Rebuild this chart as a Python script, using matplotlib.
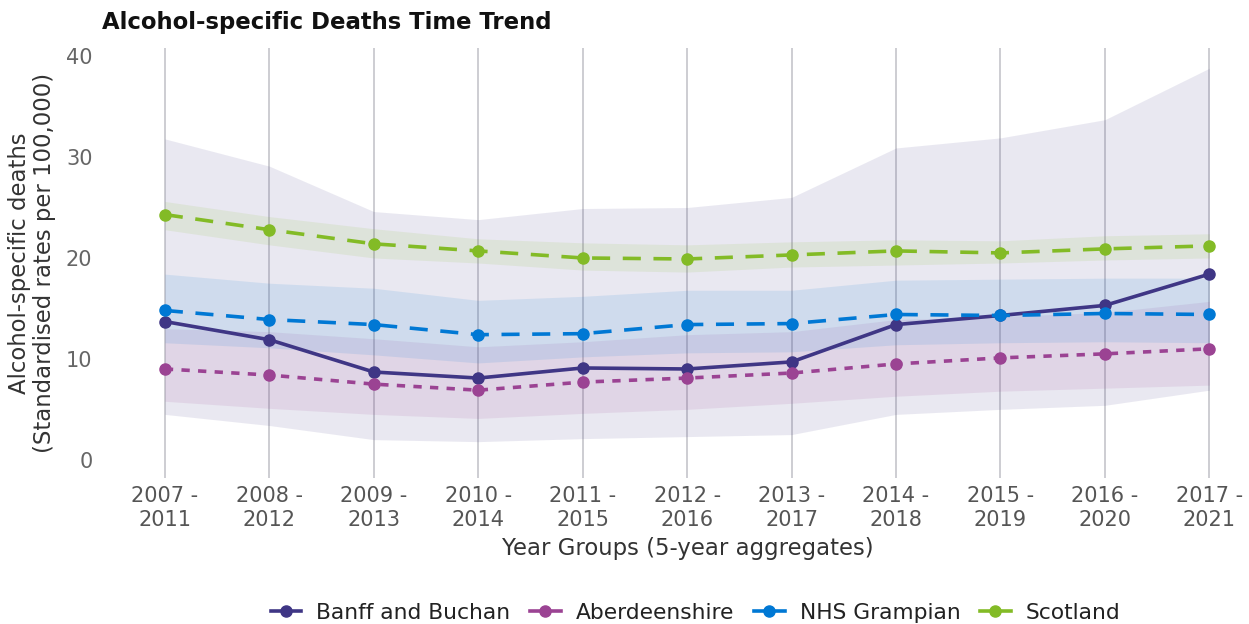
import matplotlib
matplotlib.use("Agg")
import matplotlib.pyplot as plt
from matplotlib.lines import Line2D

# year groups (5-year aggregates)
year_groups = ["2007 -\n2011", "2008 -\n2012", "2009 -\n2013", "2010 -\n2014",
               "2011 -\n2015", "2012 -\n2016", "2013 -\n2017", "2014 -\n2018",
               "2015 -\n2019", "2016 -\n2020", "2017 -\n2021"]

# standardised rates per 100,000 with 95% CI
banff = [13.7, 11.9, 8.7, 8.1, 9.1, 9.0, 9.7, 13.4, 14.3, 15.3, 18.4]
banff_lo = [4.5, 3.4, 2.0, 1.8, 2.1, 2.3, 2.5, 4.5, 5.0, 5.4, 6.9]
banff_hi = [31.8, 29.1, 24.6, 23.8, 24.9, 25.0, 26.0, 30.9, 31.9, 33.7, 38.8]

aberdeenshire = [9.0, 8.4, 7.5, 6.9, 7.7, 8.1, 8.6, 9.5, 10.1, 10.5, 11.0]
aberdeenshire_lo = [5.8, 5.1, 4.5, 4.1, 4.6, 5.0, 5.6, 6.3, 6.8, 7.1, 7.4]
aberdeenshire_hi = [13.0, 12.7, 12.0, 11.2, 11.7, 12.4, 12.7, 13.9, 14.2, 14.6, 15.7]

grampian = [14.8, 13.9, 13.4, 12.4, 12.5, 13.4, 13.5, 14.4, 14.3, 14.5, 14.4]
grampian_lo = [11.6, 11.1, 10.4, 9.6, 10.2, 10.6, 10.7, 11.4, 11.6, 11.7, 11.6]
grampian_hi = [18.4, 17.5, 17.0, 15.8, 16.2, 16.8, 16.8, 17.8, 17.9, 18.0, 18.0]

scotland = [24.3, 22.8, 21.4, 20.7, 20.0, 19.9, 20.3, 20.7, 20.5, 20.9, 21.2]
scotland_lo = [22.8, 21.3, 20.0, 19.5, 18.8, 18.6, 19.1, 19.3, 19.5, 19.8, 20.0]
scotland_hi = [25.6, 24.1, 22.9, 21.9, 21.5, 21.3, 21.6, 21.8, 21.7, 22.2, 22.4]

series = [
    ("Banff and Buchan", banff, banff_lo, banff_hi, "#3F3685", "-"),
    ("Aberdeenshire", aberdeenshire, aberdeenshire_lo, aberdeenshire_hi, "#9B4393", (0, (2.3, 2.3))),
    ("NHS Grampian", grampian, grampian_lo, grampian_hi, "#0078D4", (0, (5, 3.5))),
    ("Scotland", scotland, scotland_lo, scotland_hi, "#83BB26", (0, (5, 3.5))),
]

fig = plt.figure(figsize=(12.49, 6.24), dpi=100)
ax = fig.add_axes([0.084, 0.234, 0.906, 0.689])

x = list(range(len(year_groups)))

for name, vals, lo, hi, col, ls in series:
    ax.fill_between(x, lo, hi, color=col, alpha=0.11, linewidth=0, zorder=1)

for name, vals, lo, hi, col, ls in series:
    ax.plot(x, vals, color=col, linestyle=ls, linewidth=2.6, marker="o",
            markersize=8, zorder=3)

ax.set_xlim(-0.574, 10.26)
ax.set_ylim(-1.8, 40.8)
ax.set_xticks(x)
ax.set_xticklabels(year_groups, fontsize=15, color="#555555", linespacing=1.2)
ax.set_yticks([0, 10, 20, 30, 40])
ax.tick_params(axis="y", labelsize=15, labelcolor="#666666", length=0, pad=9)
ax.tick_params(axis="x", length=0, pad=6)

ax.grid(axis="x", color="#cdcdd2", linewidth=1.4)
ax.grid(axis="y", visible=False)
ax.set_axisbelow(True)
for s in ax.spines.values():
    s.set_visible(False)

ax.set_xlabel("Year Groups (5-year aggregates)", fontsize=16.4, color="#333333")
ax.xaxis.set_label_coords(0.515, -0.137)
ax.set_ylabel("Alcohol-specific deaths\n(Standardised rates per 100,000)",
              fontsize=16.4, color="#333333", labelpad=7, linespacing=1.12)

fig.text(102 / 1249, 1 - 23 / 624, "Alcohol-specific Deaths Time Trend",
         fontsize=16.4, fontweight="bold", color="#111111", ha="left", va="center")

handles = [Line2D([], [], color=col, linewidth=2.6, marker="o", markersize=8)
           for name, vals, lo, hi, col, ls in series]
labels = [s[0] for s in series]
fig.legend(handles, labels, loc="center", bbox_to_anchor=(0.557, 0.0176), ncol=4,
           frameon=False, fontsize=15.7, handlelength=1.4, handletextpad=0.7,
           columnspacing=0.9, labelcolor="#222222")

fig.savefig("out.png", dpi=100)
